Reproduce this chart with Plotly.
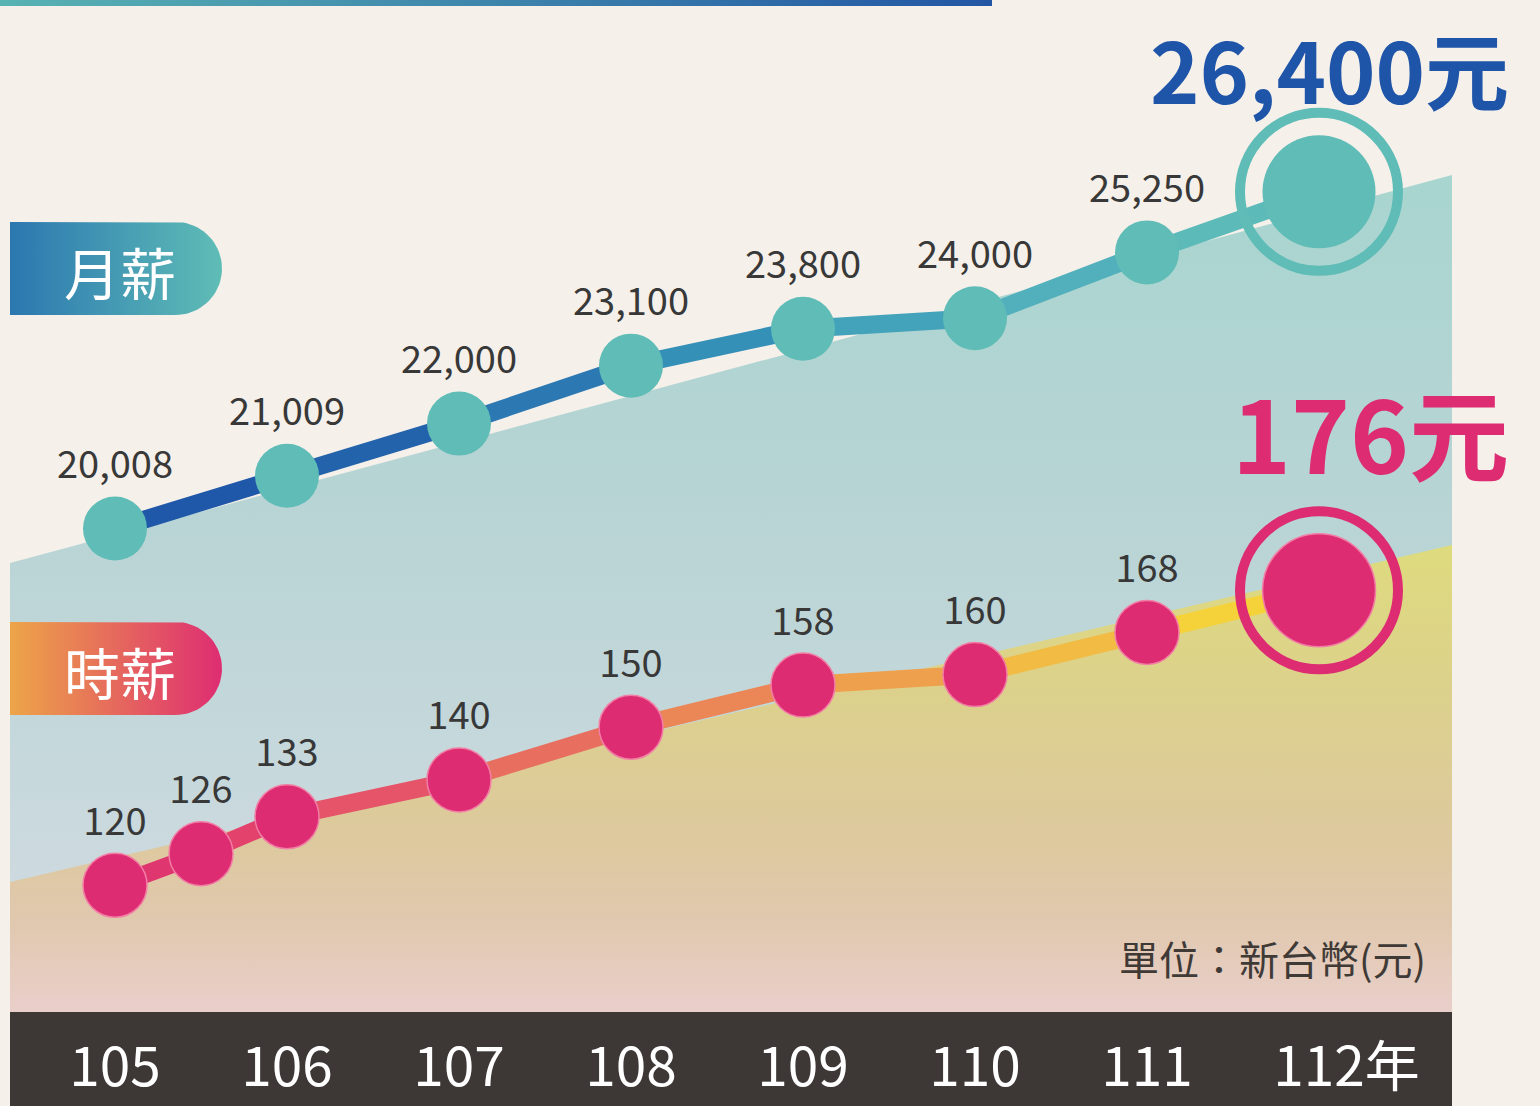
import numpy as np
import plotly.graph_objects as go

# ---------------- data ----------------
years = [105, 106, 107, 108, 109, 110, 111, 112]
year_labels = ["105", "106", "107", "108", "109", "110", "111", "112年"]
monthly_x = [105, 106, 107, 108, 109, 110, 111, 112]
monthly = [20008, 21009, 22000, 23100, 23800, 24000, 25250, 26400]
hourly_x = [105, 105.5, 106, 107, 108, 109, 110, 111, 112]
hourly = [120, 126, 133, 140, 150, 158, 160, 168, 176]
unit_text = "單位：新台幣(元)"

# ---------------- style ----------------
W, H = 1540, 1106
FONT = "Noto Sans CJK TC"
BG = "#f5f0ea"
TEAL = "#5fbcb6"
PINK = "#dd2c72"
LABEL = "#383838"
monthly_seg_colors = ["#1f58a8", "#2363ab", "#2b78b2", "#3590b7", "#43a3ba", "#51b0bb", "#5cbab8"]
hourly_seg_colors = ["#e0366f", "#e2426c", "#e55468", "#e86e5f", "#eb8756", "#eea04c", "#f1bb44", "#f5d23a"]

fig = go.Figure()

# decorative background (pixel coordinate axes x / y)
def poly(xs, ys, gtype, cscale, name):
    fig.add_trace(go.Scatter(x=xs, y=ys, fill="toself", mode="lines",
                             line=dict(width=0), hoverinfo="skip", showlegend=False,
                             fillgradient=dict(type=gtype, colorscale=cscale), name=name,
                             xaxis="x", yaxis="y"))

def rev(cs):
    return [[1 - p, c] for p, c in reversed(cs)]

# top banner
poly([0, 985, 992, 992, 0], [0, 0, -2, 6, 6], "horizontal",
     [[0, "#58b3b3"], [1, "#2256a4"]], "banner")
# upper (monthly) area  (listed top -> bottom on screen)
poly([10, 1452, 1452, 10], [563, 175, 1012, 1012], "vertical",
     rev([[0, "#a8d5cf"], [0.4, "#b8d4d5"], [0.85, "#cddadf"], [1, "#d3dbe0"]]), "area1")
# lower (hourly) area
poly([10, 1452, 1452, 10], [882, 545, 1012, 1012], "vertical",
     rev([[0, "#dedb7e"], [0.3, "#dcd18b"], [0.62, "#ddc99d"], [0.8, "#e0c8ae"], [1, "#e9cfca"]]), "area2")

# pills
def pill(y0, y1, c_left, c_right, text):
    r = (y1 - y0) / 2
    cx = 222 - r
    cy = (y0 + y1) / 2
    ang = np.linspace(-np.pi / 2, np.pi / 2, 40)
    xs = [10, cx] + list(cx + r * np.cos(ang)) + [cx, 10]
    ys = [y0, y0] + list(cy + r * np.sin(ang)) + [y1, y1]
    poly(xs, ys, "horizontal", [[0, c_left], [1, c_right]], text)
    fig.add_annotation(x=120, y=cy + 2, xref="x", yref="y", text=text, showarrow=False,
                       font=dict(family=FONT, size=56, color="white"))

pill(222, 315, "#2b77b0", "#5fbdb6", "月薪")
pill(622, 715, "#eda548", "#de2d72", "時薪")

# ---------------- data traces ----------------
for i in range(len(hourly) - 1):
    fig.add_trace(go.Scatter(x=hourly_x[i:i + 2], y=hourly[i:i + 2], mode="lines",
                             line=dict(color=hourly_seg_colors[i], width=18),
                             hoverinfo="skip", showlegend=False, xaxis="x2", yaxis="y3"))
for i in range(len(monthly) - 1):
    fig.add_trace(go.Scatter(x=monthly_x[i:i + 2], y=monthly[i:i + 2], mode="lines",
                             line=dict(color=monthly_seg_colors[i], width=18),
                             hoverinfo="skip", showlegend=False, xaxis="x2", yaxis="y2"))

n_m = len(monthly)
fig.add_trace(go.Scatter(
    x=monthly_x, y=monthly, mode="markers+text",
    text=[f"{v:,}" for v in monthly[:-1]] + [""], textposition="top center",
    textfont=dict(family=FONT, size=38, color=LABEL),
    marker=dict(color=TEAL, size=[64] * (n_m - 1) + [113], opacity=1, line=dict(width=0)),
    showlegend=False, xaxis="x2", yaxis="y2"))
fig.add_trace(go.Scatter(
    x=monthly_x[-1:], y=monthly[-1:], mode="markers",
    marker=dict(symbol="circle-open", color=TEAL, size=158, opacity=1, line=dict(width=10, color=TEAL)),
    showlegend=False, hoverinfo="skip", xaxis="x2", yaxis="y2"))

n_h = len(hourly)
fig.add_trace(go.Scatter(
    x=hourly_x, y=hourly, mode="markers+text",
    text=[str(v) for v in hourly[:-1]] + [""], textposition="top center",
    textfont=dict(family=FONT, size=38, color=LABEL),
    marker=dict(color=PINK, size=[64] * (n_h - 1) + [113], opacity=1, line=dict(width=1.5, color="#f27ea5")),
    showlegend=False, xaxis="x2", yaxis="y3"))
fig.add_trace(go.Scatter(
    x=hourly_x[-1:], y=hourly[-1:], mode="markers",
    marker=dict(symbol="circle-open", color=PINK, size=158, opacity=1, line=dict(width=10, color=PINK)),
    showlegend=False, hoverinfo="skip", xaxis="x2", yaxis="y3"))

# big highlight labels
fig.add_annotation(x=monthly_x[-1], y=monthly[-1], xref="x2", yref="y2",
                   text=f"{monthly[-1]:,}元", showarrow=False, xshift=10, yshift=124,
                   font=dict(family=FONT, size=84, color="#1f55a8", weight="bold"))
fig.add_annotation(x=hourly_x[-1], y=hourly[-1], xref="x2", yref="y3",
                   text=f"{hourly[-1]}元", showarrow=False, xshift=51, yshift=160,
                   font=dict(family=FONT, size=100, color="#dd2c72", weight="bold"))

# unit note
fig.add_annotation(x=1428, y=958, xref="x", yref="y", text=unit_text, showarrow=False,
                   xanchor="right", font=dict(family=FONT, size=40, color="#403a37"))

# dark year bar
fig.add_shape(type="rect", xref="paper", yref="paper", x0=10 / W, x1=1452 / W,
              y0=0, y1=(H - 1012) / H, fillcolor="#3d3736", line=dict(width=0), layer="below")

# ---------------- axes ----------------
x_px0, x_step = 115, 172
x_range = [105 - x_px0 / x_step, 105 + (W - x_px0) / x_step]
m_mean_v, m_mean_y, m_k = 23195.9, 360.6, 0.05268
y2_range = [m_mean_v - (H - m_mean_y) / m_k, m_mean_v + m_mean_y / m_k]
h_mean_v, h_mean_y, h_k = 147.9, 738.3, 5.266
y3_range = [h_mean_v - (H - h_mean_y) / h_k, h_mean_v + h_mean_y / h_k]

hidden = dict(showgrid=False, zeroline=False, showticklabels=False, showline=False, ticks="")
tick_text = [t if t != "112年" else "<span style='color:rgba(0,0,0,0)'>年</span>112年" for t in year_labels]

fig.update_layout(
    width=W, height=H, autosize=False,
    margin=dict(l=0, r=0, t=0, b=0, pad=0, autoexpand=False),
    paper_bgcolor=BG, plot_bgcolor=BG, showlegend=False,
    xaxis=dict(range=[0, W], domain=[0, 1], **hidden),
    yaxis=dict(range=[H, 0], domain=[0, 1], **hidden),
    xaxis2=dict(range=x_range, overlaying="x", anchor="y2", side="bottom",
                showgrid=False, zeroline=False, showline=False, ticks="",
                tickvals=years, ticktext=tick_text, ticklabelposition="inside",
                ticklabelstandoff=6, automargin=False,
                tickfont=dict(family=FONT, size=55, color="white")),
    yaxis2=dict(range=y2_range, overlaying="y", **hidden),
    yaxis3=dict(range=y3_range, overlaying="y", **hidden),
    hovermode=False,
)

fig.write_html("out.html", config={"displayModeBar": False},
               post_script="document.body.style.margin='0';document.body.style.overflow='hidden';")
